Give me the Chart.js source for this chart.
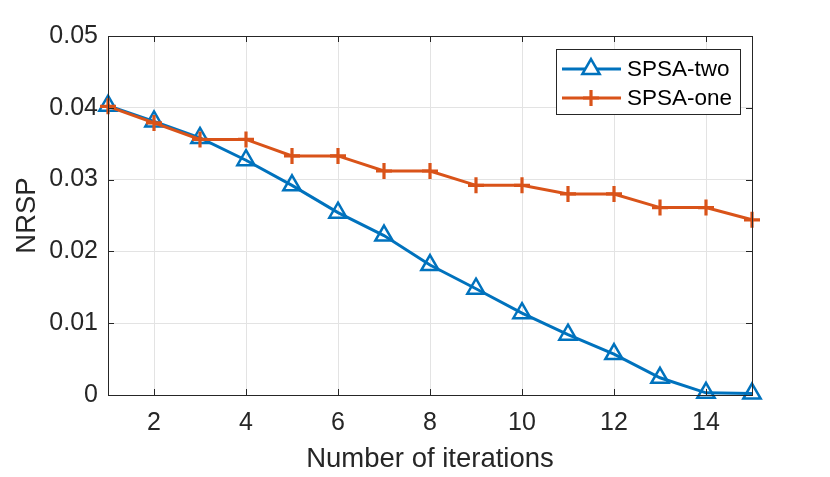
<!DOCTYPE html>
<html>
<head>
<meta charset="utf-8">
<script src="https://cdn.jsdelivr.net/npm/chart.js@4"></script>
<style>
  body { margin: 0; background: #fff; }
  #wrap { width: 830px; height: 477px; }
</style>
</head>
<body>
<div id="wrap"><canvas id="nrspChart" width="830" height="477"></canvas></div>
<script>
// values
const iterations = [1, 2, 3, 4, 5, 6, 7, 8, 9, 10, 11, 12, 13, 14, 15];
const spsaTwo = [0.0403, 0.0381, 0.0358, 0.0327, 0.0292, 0.0254, 0.0222, 0.0181, 0.0148, 0.0114, 0.0084, 0.0057, 0.0024, 0.0003, 0.0002];
const spsaOne = [0.0402, 0.0379, 0.0356, 0.0356, 0.0333, 0.0333, 0.0312, 0.0312, 0.0292, 0.0292, 0.0280, 0.0280, 0.0261, 0.0261, 0.0244];
const xTicks = [2, 4, 6, 8, 10, 12, 14];
const yTicks = [0, 0.01, 0.02, 0.03, 0.04, 0.05];

const FONT = "'Liberation Sans', Arial, Helvetica, sans-serif";
const AXIS_COLOR = '#262626';
const BLUE = '#0072BD';
const ORANGE = '#D95319';

// matlab style box with inward ticks
const boxPlugin = {
    id: 'boxPlugin',
    afterDatasetsDraw(chart) {
        const { ctx, chartArea: a, scales } = chart;
        ctx.save();
        ctx.strokeStyle = AXIS_COLOR;
        ctx.lineWidth = 1;
        ctx.strokeRect(a.left + 0.5, a.top + 0.5, a.right - a.left, a.bottom - a.top);
        ctx.beginPath();
        const len = 6;
        xTicks.forEach(v => {
            const px = Math.round(scales.x.getPixelForValue(v)) + 0.5;
            ctx.moveTo(px, a.bottom); ctx.lineTo(px, a.bottom - len);
            ctx.moveTo(px, a.top); ctx.lineTo(px, a.top + len);
        });
        yTicks.forEach(v => {
            const py = Math.round(scales.y.getPixelForValue(v)) + 0.5;
            ctx.moveTo(a.left, py); ctx.lineTo(a.left + len, py);
            ctx.moveTo(a.right, py); ctx.lineTo(a.right - len, py);
        });
        ctx.stroke();
        ctx.restore();
    }
};

// legend box in the top right corner of the axes
const legendPlugin = {
    id: 'insideLegend',
    afterDraw(chart) {
        const ctx = chart.ctx;
        const box = { x: 556, y: 49, w: 184, h: 65 };
        ctx.save();
        ctx.fillStyle = '#fff';
        ctx.fillRect(box.x, box.y, box.w, box.h);
        ctx.strokeStyle = AXIS_COLOR;
        ctx.lineWidth = 1;
        ctx.strokeRect(box.x + 0.5, box.y + 0.5, box.w, box.h);

        const rows = [69, 98];
        chart.data.datasets.forEach((ds, i) => {
            const y = rows[i];
            ctx.strokeStyle = ds.borderColor;
            ctx.lineWidth = ds.borderWidth;
            ctx.beginPath();
            ctx.moveTo(562, y);
            ctx.lineTo(621, y);
            ctx.stroke();
            ctx.lineWidth = ds.pointBorderWidth;
            Chart.helpers.drawPoint(ctx, {
                pointStyle: ds.pointStyle,
                radius: ds.pointRadius,
                borderWidth: ds.pointBorderWidth,
                rotation: 0
            }, 591, y);
            ctx.fillStyle = '#000';
            ctx.font = '22.5px ' + FONT;
            ctx.textAlign = 'left';
            ctx.textBaseline = 'middle';
            ctx.fillText(ds.label, 627, y + 1);
        });
        ctx.restore();
    }
};

function makeSeries(label, values, color, style, radius, markerWidth, order) {
    return {
        label: label,
        data: iterations.map((x, i) => ({ x: x, y: values[i] })),
        borderColor: color,
        backgroundColor: 'rgba(0,0,0,0)',
        borderWidth: 3,
        pointStyle: style,
        pointRadius: radius,
        pointHoverRadius: radius,
        pointBorderColor: color,
        pointBackgroundColor: 'rgba(0,0,0,0)',
        pointBorderWidth: markerWidth,
        tension: 0,
        clip: false,
        order: order
    };
}

const ctx = document.getElementById('nrspChart');
new Chart(ctx, {
    type: 'line',
    data: {
        datasets: [
            makeSeries('SPSA-two', spsaTwo, BLUE, 'triangle', 10, 2.5, 1),
            makeSeries('SPSA-one', spsaOne, ORANGE, 'cross', 8, 3.2, 0)
        ]
    },
    options: {
        responsive: false,
        animation: false,
        devicePixelRatio: 1,
        layout: { padding: { left: 0, top: 36, right: 78, bottom: 0 } },
        plugins: {
            legend: { display: false },
            tooltip: { enabled: false }
        },
        scales: {
            x: {
                type: 'linear',
                min: 1,
                max: 15,
                afterBuildTicks: scale => { scale.ticks = xTicks.map(v => ({ value: v })); },
                afterFit: scale => { scale.height = 82; },
                grid: { color: '#e3e3e3', drawTicks: false },
                border: { display: false },
                ticks: {
                    color: AXIS_COLOR,
                    font: { family: FONT, size: 25 },
                    padding: 13,
                    maxRotation: 0,
                    callback: v => String(v)
                },
                title: {
                    display: true,
                    text: 'Number of iterations',
                    color: AXIS_COLOR,
                    font: { family: FONT, size: 27.5 },
                    padding: { top: 1.5, bottom: 1.5 }
                }
            },
            y: {
                type: 'linear',
                min: 0,
                max: 0.05,
                afterBuildTicks: scale => { scale.ticks = yTicks.map(v => ({ value: v })); },
                afterFit: scale => { scale.width = 108; },
                grid: { color: '#e3e3e3', drawTicks: false },
                border: { display: false },
                ticks: {
                    color: AXIS_COLOR,
                    font: { family: FONT, size: 25 },
                    padding: 10,
                    callback: v => (v === 0 ? '0' : v.toFixed(2))
                },
                title: {
                    display: true,
                    text: 'NRSP',
                    color: AXIS_COLOR,
                    font: { family: FONT, size: 27.5 },
                    padding: { top: 10.5, bottom: 0 }
                }
            }
        }
    },
    plugins: [boxPlugin, legendPlugin]
});
</script>
</body>
</html>
